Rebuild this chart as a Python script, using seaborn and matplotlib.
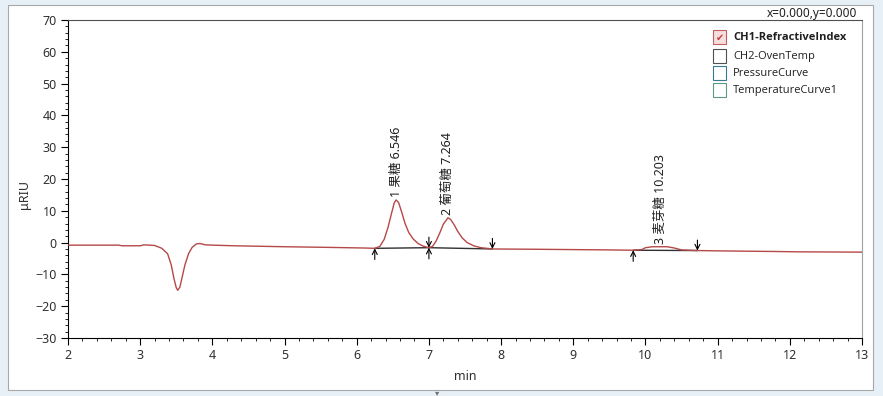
import matplotlib
matplotlib.use("Agg")
import matplotlib.pyplot as plt
import seaborn as sns
import pandas as pd
from matplotlib.patches import Rectangle
from matplotlib.ticker import MultipleLocator

# ---- data ----
time_min = [2.00, 2.70, 2.75, 3.00, 3.05, 3.20, 3.30, 3.38, 3.43, 3.47, 3.50, 3.52,
            3.55, 3.58, 3.62, 3.67, 3.72, 3.78, 3.83, 3.90, 4.00, 4.30, 5.00, 5.60,
            6.10, 6.25, 6.32, 6.38, 6.43, 6.48, 6.52, 6.546, 6.58, 6.62, 6.67, 6.72,
            6.78, 6.85, 6.92, 7.00, 7.05, 7.10, 7.15, 7.20, 7.264, 7.30, 7.35, 7.40,
            7.46, 7.53, 7.62, 7.72, 7.88, 8.50, 9.00, 9.50, 9.83, 9.95, 10.00, 10.10,
            10.30, 10.40, 10.50, 10.72, 11.00, 11.80, 12.10, 13.00]
signal_uriu = [-0.8, -0.8, -1.0, -1.0, -0.7, -0.9, -1.8, -3.5, -7.0, -11.5, -14.2, -15.0,
               -14.0, -11.0, -7.0, -3.5, -1.5, -0.4, -0.3, -0.7, -0.8, -1.0, -1.3, -1.5,
               -1.7, -1.8, -1.2, 1.0, 4.5, 9.0, 12.5, 13.4, 12.6, 9.8, 6.0, 3.2,
               1.2, -0.3, -1.1, -1.6, -1.2, 0.5, 3.0, 5.8, 7.8, 7.3, 5.6, 3.5,
               1.5, 0.0, -1.0, -1.6, -2.0, -2.1, -2.2, -2.3, -2.4, -2.2, -1.6, -1.3,
               -1.3, -1.7, -2.3, -2.5, -2.6, -2.8, -2.9, -3.0]

peak_numbers = [1, 2, 3]
peak_names = ["果糖", "葡萄糖", "麦芽糖"]
peak_rt = [6.546, 7.264, 10.203]
peak_apex = [13.4, 7.8, -1.3]
peak_start_t = [6.25, 7.00, 9.83]
peak_start_y = [-1.8, -1.6, -2.4]
peak_end_t = [7.00, 7.88, 10.72]
peak_end_y = [-1.6, -2.0, -2.5]

legend_labels = ["CH1-RefractiveIndex", "CH2-OvenTemp", "PressureCurve", "TemperatureCurve1"]
legend_edge = ["#c06060", "#505050", "#3a7a90", "#5a9a80"]

W, H = 883, 396
sns.set_theme(style="white")
plt.rcParams['font.family'] = ['Noto Sans', 'Noto Sans CJK SC', 'DejaVu Sans']

fig = plt.figure(figsize=(W / 100, H / 100), dpi=100, facecolor="#e6f0f6")

def fx(px):
    return px / W

def fy(py):
    return 1 - py / H

# white panel (behind everything)
panel = Rectangle((fx(8), fy(390)), fx(873) - fx(8), fy(5) - fy(390),
                  transform=fig.transFigure, facecolor="white",
                  edgecolor="#a8a8a8", lw=0.8, zorder=-10)
fig.patches.append(panel)

ax = fig.add_axes([fx(68), fy(338), fx(862) - fx(68), fy(20) - fy(338)])
ax.set_zorder(1)
ax.patch.set_alpha(0)

df = pd.DataFrame({"min": time_min, "uRIU": signal_uriu})
sns.lineplot(data=df, x="min", y="uRIU", ax=ax, color="#b54848", lw=1.0,
             estimator=None, sort=False, zorder=3)

# integration baselines and markers
for ts, ys, te, ye in zip(peak_start_t, peak_start_y, peak_end_t, peak_end_y):
    ax.plot([ts, te], [ys, ye], color="#303030", lw=1.0, zorder=2)

arrow_kw = dict(arrowstyle="->,head_length=0.3,head_width=0.15", color="black",
                lw=0.8, shrinkA=0, shrinkB=0)
for ts, ys in zip(peak_start_t, peak_start_y):
    ax.annotate("", xy=(ts, ys), xytext=(ts, ys - 3.5), arrowprops=arrow_kw, zorder=4)
for te, ye in zip(peak_end_t, peak_end_y):
    ax.annotate("", xy=(te, ye), xytext=(te, ye + 3.3), arrowprops=arrow_kw, zorder=4)

# peak labels
for n, name, rt, apex in zip(peak_numbers, peak_names, peak_rt, peak_apex):
    ax.text(rt, apex + 1.0, f"{n} {name} {rt:.3f}", rotation=90, ha="center",
            va="bottom", fontsize=9, color="#202020")

ax.set_xlim(2, 13)
ax.set_ylim(-30, 70)
ax.xaxis.set_major_locator(MultipleLocator(1))
ax.xaxis.set_minor_locator(MultipleLocator(0.2))
ax.yaxis.set_major_locator(MultipleLocator(10))
ax.yaxis.set_minor_locator(MultipleLocator(2))
ax.tick_params(which="major", direction="out", length=5, width=0.8, color="black",
               labelsize=9, labelcolor="#303030", pad=3, bottom=True, left=True)
ax.tick_params(which="minor", direction="out", length=2.5, width=0.6, color="black",
               bottom=True, left=True)
ax.set_xlabel("min", fontsize=9, color="#303030", labelpad=6)
ax.set_ylabel("μRIU", fontsize=9, color="#303030")
ax.yaxis.set_label_coords(-0.046, 0.45)

for side in ["left", "bottom"]:
    ax.spines[side].set_color("black")
    ax.spines[side].set_linewidth(0.8)
ax.spines["top"].set_color("#505050")
ax.spines["top"].set_linewidth(0.8)
ax.spines["right"].set_color("#a0a0a0")
ax.spines["right"].set_linewidth(0.8)

# coordinate readout
fig.text(fx(857), fy(13), "x=0.000,y=0.000", ha="right", va="center", fontsize=8.5,
         color="#202020")

# legend (checkbox style)
row_y = [37, 56, 73, 90]
for i, (lab, ec, ry) in enumerate(zip(legend_labels, legend_edge, row_y)):
    fc = "#f7dede" if i == 0 else "white"
    fig.patches.append(Rectangle((fx(713), fy(ry + 6.5)), fx(13), 13 / H,
                                 transform=fig.transFigure, facecolor=fc,
                                 edgecolor=ec, lw=0.8, zorder=5))
    fig.text(fx(733), fy(ry), lab, ha="left", va="center", fontsize=8,
             family=["Open Sans", "DejaVu Sans"],
             fontweight="bold" if i == 0 else "normal", color="#202020", zorder=6)
fig.text(fx(719.5), fy(37.5), "✔", ha="center", va="center", fontsize=7,
         color="#c04040", family=["DejaVu Sans"], zorder=6)

fig.text(fx(437), fy(393), "▾", ha="center", va="center", fontsize=6,
         color="#707070", family=["DejaVu Sans"])

fig.savefig("out.png", dpi=100, facecolor=fig.get_facecolor())
